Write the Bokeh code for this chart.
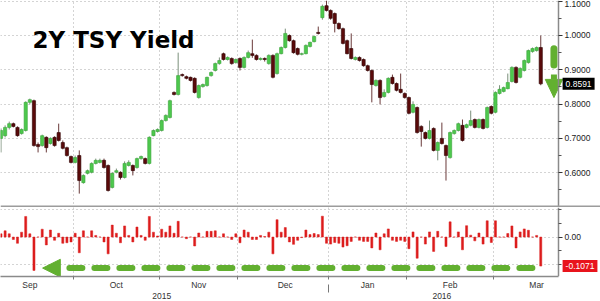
import numpy as np
from bokeh.plotting import figure
from bokeh.models import (Range1d, FixedTicker, NumeralTickFormatter, Label,
                          ColumnDataSource, Span, LinearAxis)
from bokeh.layouts import column
from bokeh.embed import file_html
from bokeh.resources import INLINE

# ---------------- data ----------------
opens = [0.700, 0.708, 0.732, 0.743, 0.732, 0.714, 0.723, 0.805, 0.810, 0.682,
         0.679, 0.703, 0.685, 0.703, 0.717, 0.688, 0.673, 0.647, 0.630, 0.650,
         0.571, 0.598, 0.601, 0.627, 0.630, 0.636, 0.621, 0.557, 0.601, 0.601,
         0.586, 0.621, 0.621, 0.615, 0.641, 0.641, 0.627, 0.708, 0.720, 0.723,
         0.752, 0.761, 0.834, 0.828, 0.886, 0.880, 0.878, 0.875, 0.819, 0.851,
         0.854, 0.883, 0.898, 0.918, 0.947, 0.930, 0.933, 0.921, 0.933, 0.907,
         0.936, 0.947, 0.942, 0.930, 0.933, 0.918, 0.942, 0.889, 0.947, 0.965,
         1.000, 0.985, 0.962, 0.945, 0.947, 0.968, 0.982, 1.009, 1.052, 1.087,
         1.073, 1.064, 1.035, 1.020, 0.985, 0.962, 0.930, 0.936, 0.930, 0.912,
         0.898, 0.854, 0.869, 0.822, 0.834, 0.878, 0.860, 0.843, 0.831, 0.819,
         0.776, 0.790, 0.735, 0.717, 0.700, 0.729, 0.665, 0.700, 0.679, 0.644,
         0.714, 0.723, 0.738, 0.732, 0.738, 0.755, 0.732, 0.755, 0.732, 0.793,
         0.776, 0.831, 0.837, 0.845, 0.866, 0.907, 0.878, 0.898, 0.921, 0.953,
         0.956, 0.965]
highs = [0.729, 0.738, 0.749, 0.746, 0.735, 0.729, 0.808, 0.816, 0.813, 0.688,
         0.711, 0.706, 0.703, 0.706, 0.743, 0.694, 0.676, 0.650, 0.650, 0.665,
         0.595, 0.609, 0.630, 0.641, 0.641, 0.641, 0.624, 0.601, 0.612, 0.604,
         0.633, 0.636, 0.624, 0.644, 0.650, 0.644, 0.706, 0.726, 0.729, 0.755,
         0.770, 0.813, 0.837, 0.950, 0.889, 0.883, 0.880, 0.878, 0.857, 0.860,
         0.880, 0.895, 0.921, 0.936, 0.950, 0.939, 0.936, 0.933, 0.936, 0.939,
         0.956, 0.988, 0.945, 0.936, 0.936, 0.945, 0.945, 0.950, 0.968, 1.020,
         1.003, 0.988, 0.965, 0.950, 0.974, 0.982, 1.000, 1.026, 1.090, 1.102,
         1.076, 1.067, 1.038, 1.023, 0.988, 1.006, 0.939, 0.939, 0.933, 0.915,
         0.901, 0.872, 0.872, 0.843, 0.878, 0.886, 0.863, 0.889, 0.834, 0.822,
         0.808, 0.793, 0.738, 0.720, 0.752, 0.732, 0.691, 0.746, 0.682, 0.720,
         0.726, 0.746, 0.755, 0.743, 0.781, 0.758, 0.758, 0.758, 0.793, 0.796,
         0.837, 0.855, 0.851, 0.889, 0.910, 0.910, 0.907, 0.930, 0.959, 0.965,
         0.968, 1.000]
lows = [0.659, 0.703, 0.726, 0.732, 0.705, 0.711, 0.720, 0.799, 0.676, 0.659,
        0.676, 0.659, 0.682, 0.676, 0.691, 0.668, 0.647, 0.627, 0.627, 0.539,
        0.568, 0.595, 0.598, 0.624, 0.627, 0.612, 0.545, 0.554, 0.598, 0.580,
        0.583, 0.618, 0.592, 0.612, 0.638, 0.624, 0.624, 0.706, 0.717, 0.720,
        0.749, 0.758, 0.825, 0.825, 0.880, 0.872, 0.866, 0.831, 0.816, 0.848,
        0.851, 0.880, 0.895, 0.915, 0.927, 0.927, 0.915, 0.918, 0.898, 0.904,
        0.933, 0.935, 0.927, 0.927, 0.924, 0.915, 0.875, 0.886, 0.945, 0.962,
        0.982, 0.947, 0.942, 0.942, 0.945, 0.965, 0.980, 1.003, 1.046, 1.070,
        1.046, 1.009, 1.017, 0.974, 0.945, 0.930, 0.927, 0.924, 0.909, 0.895,
        0.805, 0.851, 0.799, 0.819, 0.831, 0.857, 0.837, 0.831, 0.816, 0.770,
        0.773, 0.714, 0.676, 0.697, 0.697, 0.662, 0.636, 0.682, 0.577, 0.641,
        0.711, 0.720, 0.691, 0.729, 0.735, 0.729, 0.729, 0.726, 0.729, 0.770,
        0.773, 0.828, 0.834, 0.843, 0.863, 0.860, 0.875, 0.895, 0.918, 0.950,
        0.953, 0.855]
closes = [0.723, 0.732, 0.743, 0.735, 0.708, 0.726, 0.805, 0.813, 0.679, 0.676,
          0.708, 0.673, 0.700, 0.679, 0.694, 0.671, 0.650, 0.630, 0.644, 0.577,
          0.592, 0.606, 0.627, 0.636, 0.636, 0.615, 0.548, 0.598, 0.606, 0.586,
          0.627, 0.630, 0.606, 0.641, 0.647, 0.627, 0.703, 0.723, 0.726, 0.752,
          0.767, 0.810, 0.828, 0.883, 0.883, 0.875, 0.869, 0.834, 0.854, 0.857,
          0.878, 0.892, 0.918, 0.927, 0.930, 0.936, 0.918, 0.930, 0.907, 0.936,
          0.950, 0.942, 0.930, 0.933, 0.930, 0.942, 0.878, 0.947, 0.965, 1.006,
          0.985, 0.950, 0.945, 0.947, 0.971, 0.980, 0.997, 1.006, 1.085, 1.073,
          1.050, 1.035, 1.020, 0.977, 0.947, 0.933, 0.936, 0.927, 0.912, 0.898,
          0.857, 0.869, 0.819, 0.834, 0.875, 0.860, 0.840, 0.834, 0.819, 0.773,
          0.799, 0.717, 0.720, 0.700, 0.723, 0.665, 0.688, 0.685, 0.650, 0.717,
          0.723, 0.743, 0.694, 0.740, 0.752, 0.732, 0.755, 0.729, 0.790, 0.773,
          0.834, 0.843, 0.848, 0.863, 0.907, 0.863, 0.904, 0.927, 0.956, 0.962,
          0.965, 0.8591]
changes = [0.012, 0.023, 0.012, -0.009, -0.023, 0.018, 0.076, 0.012, -0.123, 0.0,
           0.029, -0.029, 0.026, -0.012, 0.014, -0.023, -0.021, -0.018, 0.014, -0.058,
           0.023, 0.0, 0.023, 0.006, 0.0, -0.018, -0.062, 0.044, 0.014, -0.021,
           0.041, 0.006, -0.018, 0.037, 0.006, -0.012, 0.076, 0.018, 0.004, 0.029,
           0.018, 0.041, 0.014, 0.058, 0.0, -0.006, 0.0, -0.033, 0.015, 0.0,
           0.021, 0.021, 0.023, 0.0, 0.012, 0.0, -0.009, 0.012, -0.021, 0.026,
           0.018, -0.009, -0.009, 0.006, 0.002, 0.018, -0.062, 0.064, 0.018, 0.035,
           -0.018, -0.027, -0.012,
           -0.002, 0.026, 0.009, 0.013, 0.009, 0.077, -0.023, -0.026, -0.020, -0.023,
           -0.037, -0.032, -0.016, 0.0, -0.012, -0.016, -0.016, -0.040, 0.015, -0.047,
           0.012, 0.030, -0.012, -0.016, -0.012, -0.016, -0.043, 0.019, -0.078, 0.0,
           -0.026, 0.019, -0.053, 0.021, 0.0, -0.035, 0.056, 0.0, 0.019, -0.047,
           0.042, 0.007, -0.014, 0.015, -0.026, 0.06, -0.02, 0.06, 0.0, 0.0,
           0.013, 0.041, -0.04, 0.019, 0.03, 0.025, 0.0, 0.006, -0.1071]

month_names = ["Sep", "Oct", "Nov", "Dec", "Jan", "Feb", "Mar"]
month_mid = [7, 28, 48, 69, 89, 109, 130]
month_bounds = [17.5, 38.5, 57.5, 79.5, 98.5, 119.5]
year_names = ["2015", "2016"]
year_mid = [39, 107]
year_break = 79.5
price_ticks = [0.6, 0.7, 0.8, 0.9, 1.0, 1.1]
price_minor = [0.55, 0.65, 0.75, 0.85, 0.95, 1.05]
chg_minor = [-0.1, -0.05, 0.05, 0.1]
chg_grid = [-0.1, 0.0, 0.1]
last_close = closes[-1]
last_change = changes[-1]
title_text = "2Y TSY Yield"

# ---------------- layout constants / styles ----------------
X0, X1 = -0.12, 145.5        # full canvas width in bar units
AXIS_X = 135.3               # where the value axis sits
GREEN = "#4dc84d"
GREEN_LINE = "#3aa53a"
DARK = "#5a0a0a"
DARK_LINE = "#2e0000"
RED = "#dc1c1c"
ARROW = "#62b030"
GRID = "#a8a8a8"
AXIS = "#8a8a8a"
FONT = "Liberation Sans"

n = len(closes)
x = np.arange(n)
o = np.array(opens)
c = np.array(closes)
h = np.array(highs)
lo = np.array(lows)
up = c >= o
dn = ~up

src_up = ColumnDataSource(dict(x=x[up], top=c[up], bottom=o[up], high=h[up], low=lo[up]))
src_dn = ColumnDataSource(dict(x=x[dn], top=o[dn], bottom=c[dn], high=h[dn], low=lo[dn]))
src_chg = ColumnDataSource(dict(x=x, top=changes))

XR = Range1d(X0, X1)


def style_value_axis(ax, ticks, minor, fmt):
    ax.ticker = FixedTicker(ticks=ticks, minor_ticks=minor)
    ax.formatter = NumeralTickFormatter(format=fmt)
    ax.fixed_location = AXIS_X
    ax.axis_line_color = AXIS
    ax.axis_line_width = 1.5
    ax.major_tick_line_color = "#333333"
    ax.minor_tick_line_color = "#555555"
    ax.major_tick_out = 4
    ax.major_tick_in = 0
    ax.minor_tick_out = 3
    ax.minor_tick_in = 0
    ax.major_label_standoff = 2
    ax.major_label_text_font = FONT
    ax.major_label_text_font_size = "8.5px"
    ax.major_label_text_color = "#222222"


# ---------------- upper panel ----------------
YR1 = Range1d(1.102 - 207 / 343.0, 1.102)
p = figure(width=600, height=207, x_range=XR, y_range=YR1,
           output_backend="svg", toolbar_location=None,
           x_axis_location=None, y_axis_location="right", min_border=0)
p.outline_line_color = None

p.xgrid.ticker = FixedTicker(ticks=month_bounds)
p.ygrid.ticker = FixedTicker(ticks=price_ticks)
for g in (p.xgrid, p.ygrid):
    g.grid_line_color = GRID
    g.grid_line_dash = "1 3"
style_value_axis(p.yaxis[0], price_ticks, price_minor, "0.0000")

# blank strip behind the value labels
p.quad(left=[AXIS_X], right=[X1], bottom=[YR1.start], top=[YR1.end],
       fill_color="white", line_color=None)

p.segment(x0="x", y0="high", x1="x", y1="low", source=src_up, line_color="#7a8f7a", line_width=1)
p.segment(x0="x", y0="high", x1="x", y1="low", source=src_dn, line_color="#6a3a3a", line_width=1)
p.vbar(x="x", width=0.78, top="top", bottom="bottom", source=src_up,
       fill_color=GREEN, line_color=GREEN_LINE, line_width=0.6)
p.vbar(x="x", width=0.78, top="top", bottom="bottom", source=src_dn,
       fill_color=DARK, line_color=DARK_LINE, line_width=0.6)

# green downward arrow annotation next to the last candle
ax_x = n + 2.2
p.segment(x0=[ax_x], y0=[0.961], x1=[ax_x], y1=[0.914], line_color=ARROW, line_width=7, line_cap="round")
p.segment(x0=[ax_x], y0=[0.886], x1=[ax_x], y1=[0.872], line_color=ARROW, line_width=6)
p.patch(x=[ax_x - 2.1, ax_x + 2.1, ax_x], y=[0.872, 0.872, 0.819], fill_color=ARROW, line_color=ARROW)

# separator between panels
p.add_layout(Span(location=1.102 - 206 / 343.0, dimension="width", line_color="#9c9c9c", line_width=2))

p.add_layout(Label(x=7.65, y=0.9854, text=title_text, text_font="DejaVu Sans",
                   text_font_style="bold", text_font_size="23px", text_color="black",
                   text_baseline="alphabetic"))
p.add_layout(Label(x=136.3, y=last_close, text="%.4f" % last_close, text_font=FONT,
                   text_font_size="8.5px", text_color="white", text_baseline="middle",
                   background_fill_color="black", background_fill_alpha=1.0, padding=3))

# ---------------- lower panel ----------------
YR2 = Range1d(-0.1455, 0.109)
p2 = figure(width=600, height=94, x_range=XR, y_range=YR2,
            output_backend="svg", toolbar_location=None,
            x_axis_location="below", y_axis_location="right", min_border=0)
p2.outline_line_color = None
p2.xgrid.ticker = FixedTicker(ticks=month_bounds)
p2.ygrid.ticker = FixedTicker(ticks=chg_grid)
for g in (p2.xgrid, p2.ygrid):
    g.grid_line_color = GRID
    g.grid_line_dash = "1 3"
style_value_axis(p2.yaxis[0], [0.0], chg_minor, "0.00")

xa = p2.xaxis[0]
xa.ticker = FixedTicker(ticks=month_mid, minor_ticks=month_bounds)
xa.major_label_overrides = {m: name for m, name in zip(month_mid, month_names)}
xa.bounds = (X0, AXIS_X)
xa.axis_line_color = AXIS
xa.axis_line_width = 1.5
xa.major_tick_line_color = None
xa.major_tick_out = 0
xa.major_tick_in = 0
xa.minor_tick_line_color = "#777777"
xa.minor_tick_out = 3
xa.minor_tick_in = 0
xa.major_label_standoff = 0
xa.major_label_text_font = FONT
xa.major_label_text_font_size = "8.5px"
xa.major_label_text_color = "#333333"

ya_years = LinearAxis(ticker=FixedTicker(ticks=year_mid, minor_ticks=[year_break]),
                      major_label_overrides={m: name for m, name in zip(year_mid, year_names)},
                      bounds=(X0, AXIS_X), axis_line_color=None,
                      major_tick_line_color=None, major_tick_out=0, major_tick_in=0,
                      minor_tick_line_color="#777777", minor_tick_in=8, minor_tick_out=0,
                      major_label_standoff=0, major_label_text_font=FONT,
                      major_label_text_font_size="8.5px", major_label_text_color="#333333")
p2.add_layout(ya_years, "below")

p2.quad(left=[AXIS_X], right=[X1], bottom=[YR2.start], top=[YR2.end],
        fill_color="white", line_color=None)

# green dashed arrow pointing left
p2.segment(x0=[16.6], y0=[-0.1145], x1=[131.0], y1=[-0.1145], line_color=ARROW,
           line_width=6, line_dash="13 12", line_cap="round")
p2.patch(x=[10.1, 14.4, 14.4], y=[-0.1145, -0.082, -0.147], fill_color=ARROW, line_color=ARROW)

p2.vbar(x="x", width=0.5, top="top", bottom=0, source=src_chg,
        fill_color=RED, line_color=RED, line_width=0.5)

p2.add_layout(Label(x=136.3, y=last_change, text="%.4f" % last_change, text_font=FONT,
                    text_font_size="8.5px", text_color="white", text_baseline="middle",
                    background_fill_color="#e8141c", background_fill_alpha=1.0, padding=3))

layout = column(p, p2, spacing=0)
open("out.html", "w").write(file_html(layout, INLINE))
